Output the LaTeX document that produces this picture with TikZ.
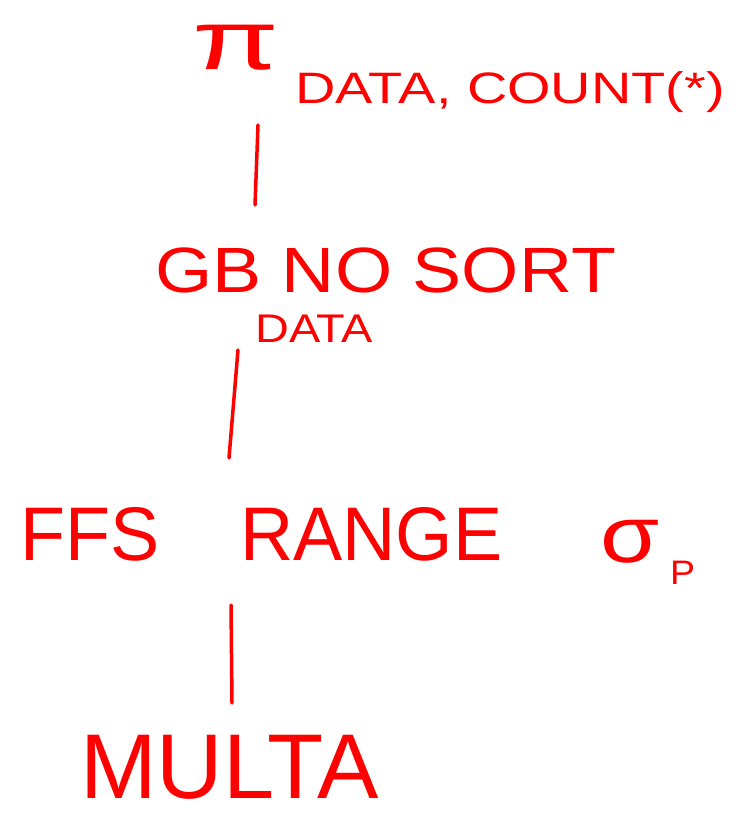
\documentclass[tikz,border=0pt]{standalone}
\usepackage{fontspec}
\setmainfont{Liberation Sans}
\definecolor{ink}{RGB}{255,0,0}
\begin{document}
\begin{tikzpicture}[x=1pt,y=1pt,
  lbl/.style={text=ink,inner sep=0pt,anchor=base west},
  conn/.style={draw=ink,line width=3.5pt,line cap=round}]
\useasboundingbox (0,0) rectangle (738,-818);
% projection
\node[lbl,font=\fontsize{84}{86}\selectfont,xscale=1.5] (pi) at (192,-70) {π};
\node[lbl,font=\fontsize{44}{46}\selectfont,xscale=1.27] (pisub) at (295,-104) {DATA, COUNT(*)};
% group by
\node[lbl,font=\fontsize{64}{66}\selectfont,xscale=1.15] (gb) at (155,-292) {GB NO SORT};
\node[lbl,font=\fontsize{40}{42}\selectfont,xscale=1.17] (gbsub) at (255,-342) {DATA};
% range scan
\node[lbl,font=\fontsize{76}{78}\selectfont,xscale=0.97] (ffs) at (20,-560) {FFS\hspace{62pt} RANGE};
\node[lbl,font=\fontsize{80}{82}\selectfont,xscale=1.2] (sig) at (600,-562) {σ};
\node[lbl,font=\fontsize{34}{36}\selectfont,xscale=1.1] (sigsub) at (670,-584) {P};
% table
\node[lbl,font=\fontsize{92}{94}\selectfont,xscale=1.0,text depth=0pt] (multa) at (80,-798) {MULTA};
% connectors
\coordinate (a1) at (258,-125); \coordinate (a2) at (255,-205);
\coordinate (b1) at (238,-350); \coordinate (b2) at (229,-458);
\coordinate (c1) at (231,-605); \coordinate (c2) at (232,-703);
\draw[conn] (a1) -- (a2);
\draw[conn] (b1) -- (b2);
\draw[conn] (c1) -- (c2);
\end{tikzpicture}
\end{document}
